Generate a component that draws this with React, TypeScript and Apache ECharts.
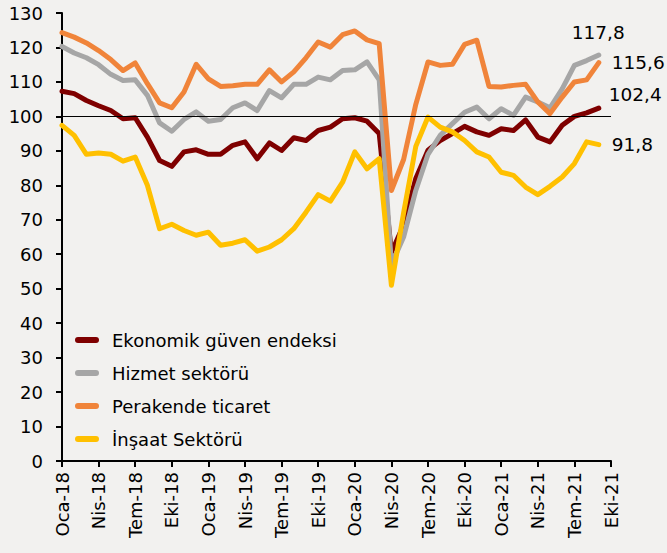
import React, { useEffect, useRef } from "react";
import * as echarts from "echarts";

const monthNames = ["Oca", "Şub", "Mar", "Nis", "May", "Haz", "Tem", "Ağu", "Eyl", "Eki", "Kas", "Ara"];
const years = ["18", "19", "20", "21"];
// Oca-18 .. Eki-21 (axis), data runs Oca-18 .. Eyl-21
const categories: string[] = [];
years.forEach((y) => monthNames.forEach((m) => categories.push(`${m}-${y}`)));
categories.splice(categories.indexOf("Eki-21") + 1);

const seriesNames = ["Ekonomik güven endeksi", "Hizmet sektörü", "Perakende ticaret", "İnşaat Sektörü"];
const seriesColors = ["#7f0000", "#a6a6a6", "#f0843a", "#ffc000"];

const ekonomik = [
  107.3, 106.6, 104.6, 103.1, 101.7, 99.3, 99.6, 94.0, 87.2, 85.5, 89.7, 90.3,
  89.0, 89.0, 91.6, 92.6, 87.7, 92.3, 90.1, 93.8, 93.0, 95.9, 96.9, 99.3,
  99.6, 98.6, 95.0, 60.5, 68.5, 82.0, 90.2, 93.0, 95.0, 97.1, 95.5, 94.5,
  96.4, 95.9, 99.0, 94.0, 92.6, 97.4, 100.0, 101.0, 102.4,
];
const hizmet = [
  120.3, 118.4, 117.0, 115.0, 112.2, 110.4, 110.6, 106.1, 98.1, 95.7, 99.1, 101.3,
  98.6, 99.1, 102.5, 103.9, 101.7, 107.5, 105.4, 109.3, 109.3, 111.4, 110.6, 113.3,
  113.5, 115.8, 110.6, 57.0, 65.0, 78.5, 89.0, 94.5, 97.9, 101.2, 102.7, 99.3,
  102.2, 100.3, 105.6, 104.2, 102.5, 108.0, 114.8, 116.2, 117.8,
];
const perakende = [
  124.3, 123.0, 121.3, 119.1, 116.5, 113.3, 115.5, 109.5, 103.9, 102.5, 107.1, 115.1,
  110.9, 108.7, 108.9, 109.3, 109.3, 113.5, 110.0, 112.9, 117.0, 121.6, 120.1, 123.7,
  124.8, 122.2, 121.1, 78.5, 87.5, 103.5, 115.8, 114.8, 115.1, 120.9, 122.1, 108.7,
  108.5, 109.0, 109.3, 104.2, 100.8, 105.6, 110.0, 110.6, 115.6,
];
const insaat = [
  97.4, 94.5, 89.0, 89.4, 89.0, 87.0, 88.2, 80.0, 67.4, 68.7, 66.9, 65.5,
  66.4, 62.6, 63.2, 64.2, 60.9, 62.1, 64.2, 67.4, 72.2, 77.3, 75.4, 80.9,
  89.7, 84.8, 87.7, 51.0, 72.0, 91.3, 99.8, 96.9, 95.5, 93.0, 89.7, 88.2,
  83.8, 82.9, 79.5, 77.3, 79.7, 82.4, 86.3, 92.6, 91.8,
];
const seriesData = [ekonomik, hizmet, perakende, insaat];
const referenceLevel = 100;
const yTicks = { min: 0, max: 130, interval: 10 };

const FONT = "DejaVu Sans";
const endLabelOffsets: [number, number][] = [
  [10, -14],
  [-27, -23],
  [13, 0],
  [13, 0],
];

export default function App() {
  const ref = useRef<HTMLDivElement>(null);
  useEffect(() => {
    document.body.style.margin = "0";
    const chart = echarts.init(ref.current!, undefined, { renderer: "svg" });
    chart.setOption({
      animation: false,
      backgroundColor: "#f2f1ef",
      textStyle: { fontFamily: FONT },
      grid: { left: 62, right: 56, top: 13, bottom: 92, containLabel: false },
      legend: {
        orient: "vertical",
        left: 70,
        top: 325,
        itemWidth: 24,
        itemHeight: 6,
        itemGap: 13,
        icon: "path://M3,0 L21,0 A3,3 0 0 1 21,6 L3,6 A3,3 0 0 1 3,0 Z",
        textStyle: { fontSize: 18, fontFamily: FONT, color: "#000", lineHeight: 20, padding: [0, 0, 0, 8] },
        data: seriesNames,
      },
      xAxis: {
        type: "category",
        data: categories,
        boundaryGap: false,
        axisLine: { lineStyle: { color: "#000", width: 2 } },
        axisTick: { show: true, interval: 2, length: 6, lineStyle: { color: "#000", width: 2 } },
        axisLabel: { interval: 2, rotate: 90, fontSize: 18, fontFamily: FONT, color: "#000", margin: 11 },
        splitLine: { show: false },
      },
      yAxis: {
        type: "value",
        min: yTicks.min,
        max: yTicks.max,
        interval: yTicks.interval,
        axisLine: { show: true, lineStyle: { color: "#000", width: 2 } },
        axisTick: { show: true, length: 6, lineStyle: { color: "#000", width: 2 } },
        axisLabel: { fontSize: 18, fontFamily: FONT, color: "#000", margin: 19 },
        splitLine: { show: false },
      },
      series: seriesNames.map((name, i) => ({
        name,
        type: "line",
        data: seriesData[i],
        showSymbol: false,
        symbol: "none",
        color: seriesColors[i],
        lineStyle: { color: seriesColors[i], width: 5, cap: "round", join: "round" },
        endLabel: {
          show: true,
          distance: 0,
          offset: endLabelOffsets[i],
          fontSize: 18.5,
          fontFamily: FONT,
          color: "#000",
          formatter: (p: any) => Number(p.value).toFixed(1).replace(".", ","),
        },
        markLine:
          i === 0
            ? {
                silent: true,
                symbol: ["none", "none"],
                label: { show: false },
                lineStyle: { color: "#000", width: 1, type: "solid" },
                data: [{ yAxis: referenceLevel }],
              }
            : undefined,
      })),
    });
    return () => chart.dispose();
  }, []);
  return <div ref={ref} style={{ width: 667, height: 553 }} />;
}
